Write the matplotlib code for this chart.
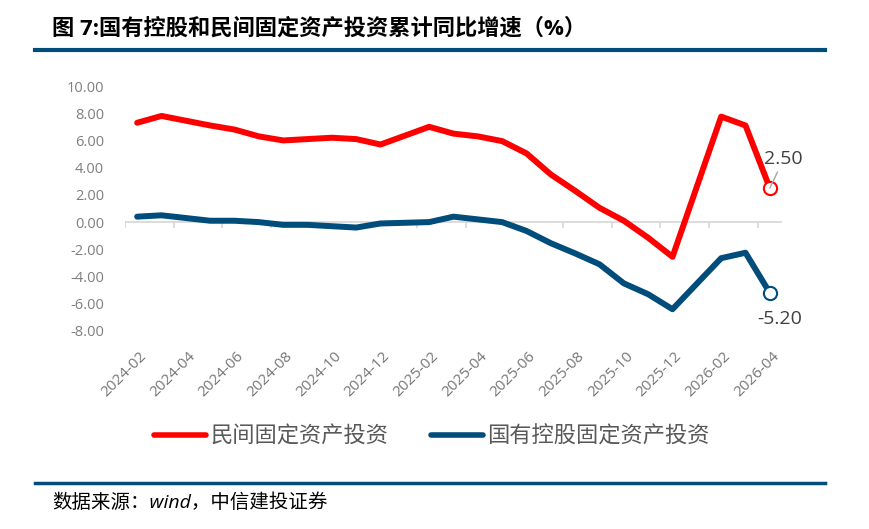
import numpy as np
import matplotlib
matplotlib.use('Agg')
import matplotlib.pyplot as plt
from matplotlib.lines import Line2D
from matplotlib.transforms import ScaledTranslation

plt.rcParams['font.family'] = ['Open Sans', 'Noto Sans CJK SC', 'DejaVu Sans']

# monthly, Jan has no published value (Excel connects across the gap)
months = ['2024-02', '2024-03', '2024-04', '2024-05', '2024-06', '2024-07', '2024-08',
          '2024-09', '2024-10', '2024-11', '2024-12', '2025-01', '2025-02', '2025-03',
          '2025-04', '2025-05', '2025-06', '2025-07', '2025-08', '2025-09', '2025-10',
          '2025-11', '2025-12', '2026-01', '2026-02', '2026-03', '2026-04']
private_inv = [7.3, 7.8, 7.45, 7.1, 6.8, 6.3, 6.0, 6.1, 6.2, 6.1, 5.7, np.nan, 7.0, 6.5,
               6.3, 5.95, 5.05, 3.5, 2.3, 1.05, 0.1, -1.15, -2.55, np.nan, 7.75, 7.1, 2.5]
state_inv = [0.4, 0.5, 0.3, 0.1, 0.1, 0.0, -0.2, -0.2, -0.3, -0.4, -0.1, np.nan, 0.0, 0.4,
             0.2, 0.0, -0.65, -1.55, -2.3, -3.1, -4.5, -5.3, -6.4, np.nan, -2.65, -2.25, -5.2]
series_names = ['民间固定资产投资', '国有控股固定资产投资']
yticks = [10, 8, 6, 4, 2, 0, -2, -4, -6, -8]
ytick_labels = ['10.00', '8.00', '6.00', '4.00', '2.00', '0.00', '-2.00', '-4.00', '-6.00', '-8.00']

RED = '#FF0000'
BLUE = '#004C7A'
W, H = 869, 529

fig = plt.figure(figsize=(W / 100, H / 100), dpi=100)
ax = fig.add_axes([125 / W, 1 - 331 / H, 657 / W, 245 / H])

x = np.arange(len(months))
handles = []
for vals, color in [(private_inv, RED), (state_inv, BLUE)]:
    v = np.asarray(vals, dtype=float)
    ok = ~np.isnan(v)
    ax.plot(x[ok], v[ok], color=color, lw=4.3, solid_joinstyle='round',
            solid_capstyle='round', zorder=3)
    ax.plot(x[-1], v[-1], 'o', ms=9.5, mfc='white', mec=color, mew=1.5, zorder=4)
    handles.append(Line2D([], [], color=color, lw=4, solid_capstyle='round'))

# end labels
ax.annotate('2.50', xy=(x[-1], private_inv[-1]), xytext=(10, 21), textcoords='offset points',
            ha='center', va='center', fontsize=14, color='#404040', zorder=5,
            arrowprops=dict(arrowstyle='-', color='#A6A6A6', lw=1, shrinkA=1, shrinkB=0))
ax.annotate('-5.20', xy=(x[-1], state_inv[-1]), xytext=(7, -19), textcoords='offset points',
            ha='center', va='center', fontsize=14, color='#404040', zorder=5)

ax.set_xlim(-0.5, len(months) - 0.5)
ax.set_ylim(-8, 10)
for s in ax.spines.values():
    s.set_visible(False)

# category axis crossing at zero
ax.axhline(0, color='#D9D9D9', lw=1.3, zorder=1)
ax.vlines(np.arange(-0.5, len(months) - 1, 2), -0.42, 0, color='#D9D9D9', lw=1.3, zorder=1)

ax.set_yticks(yticks)
ax.set_yticklabels(ytick_labels)
ax.tick_params(axis='y', length=0, pad=15, labelsize=10.5, labelcolor='#7F7F7F')

ax.set_xticks(x[::2])
ax.set_xticklabels(months[::2], rotation=45, ha='right', va='center', rotation_mode='anchor')
ax.tick_params(axis='x', length=0, pad=16.5, labelsize=11, labelcolor='#767676')
shift = ScaledTranslation(7 / 100, 0, fig.dpi_scale_trans)
for lab in ax.get_xticklabels():
    lab.set_transform(lab.get_transform() + shift)

fig.legend(handles, series_names, loc='center', bbox_to_anchor=(432 / W, 1 - 437 / H),
           ncol=2, frameon=False, fontsize=16, handlelength=2.35, handletextpad=0.2,
           columnspacing=1.9, labelcolor='#595959', borderpad=0)

# title, bars and source
fig.text(52 / W, 1 - 29 / H, '图 7:国有控股和民间固定资产投资累计同比增速（%）',
         fontsize=16, fontweight='bold', color='black', va='center', ha='left')
fig.add_artist(Line2D([35 / W, 825 / W], [1 - 50 / H, 1 - 50 / H], color=BLUE, lw=3,
                      transform=fig.transFigure))
fig.add_artist(Line2D([35 / W, 825 / W], [1 - 483 / H, 1 - 483 / H], color=BLUE, lw=2.5,
                      transform=fig.transFigure))
fig.text(52 / W, 1 - 503 / H, '数据来源：wind，中信建投证券', fontsize=14, style='italic',
         color='black', va='center', ha='left')

fig.savefig('out.png', dpi=100)
